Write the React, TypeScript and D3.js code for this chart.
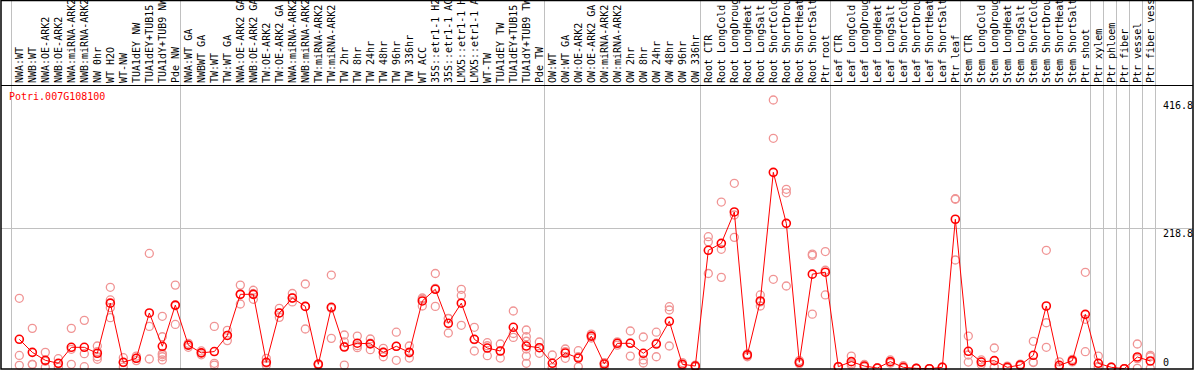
import * as d3 from 'd3';

const geneId = 'Potri.007G108100';

const labels = [
  'NWA:WT', 'NWB:WT', 'NWA:OE-ARK2', 'NWB:OE-ARK2', 'NWA:miRNA-ARK2', 'NWB:miRNA-ARK2', 'NW 0hr', 'WT H2O', 'WT-NW',
  'TUA1dEY NW', 'TUA1dEY+TUB15 NW', 'TUA1dY+TUB9 NW', 'Pde NW',
  'NWA:WT GA', 'NWBWT GA', 'TW:WT', 'TW:WT GA', 'NWA:OE-ARK2 GA', 'NWB:OE-ARK2 GA', 'TW:OE-ARK2', 'TW:OE-ARK2 GA',
  'NWA:miRNA-ARK2', 'NWB:miRNA-ARK2', 'TW:miRNA-ARK2', 'TW:miRNA-ARK2', 'TW 2hr', 'TW 8hr', 'TW 24hr', 'TW 48hr',
  'TW 96hr', 'TW 336hr', 'WT ACC', '35S::etr1-1 H2O', '35S::etr1-1 ACC', 'LMX5::etr1-1 H2O', 'LMX5::etr1-1 ACC',
  'WT-TW', 'TUA1dEY TW', 'TUA1dEY+TUB15 TW', 'TUA1dY+TUB9 TW', 'Pde TW',
  'OW:WT', 'OW:WT GA', 'OW:OE-ARK2', 'OW:OE-ARK2 GA', 'OW:miRNA-ARK2', 'OW:miRNA-ARK2', 'OW 2hr', 'OW 8hr',
  'OW 24hr', 'OW 48hr', 'OW 96hr', 'OW 336hr',
  'Root CTR', 'Root LongCold', 'Root LongDrought', 'Root LongHeat', 'Root LongSalt', 'Root ShortCold',
  'Root ShortDrought', 'Root ShortHeat', 'Root ShortSalt', 'Ptr root',
  'Leaf CTR', 'Leaf LongCold', 'Leaf LongDrought', 'Leaf LongHeat', 'Leaf LongSalt', 'Leaf ShortCold',
  'Leaf ShortDrought', 'Leaf ShortHeat', 'Leaf ShortSalt', 'Ptr leaf',
  'Stem CTR', 'Stem LongCold', 'Stem LongDrought', 'Stem LongHeat', 'Stem LongSalt', 'Stem ShortCold',
  'Stem ShortDrought', 'Stem ShortHeat', 'Stem ShortSalt', 'Ptr shoot',
  'Ptr xylem', 'Ptr phloem', 'Ptr fiber', 'Ptr vessel', 'Ptr fiber vessel',
];

// number of samples in each experiment block (separated by grey lines)
const groupSizes = [13, 28, 12, 10, 10, 10, 1, 1, 1, 1, 1];

const means = [
  46, 25.8, 13.5, 8.8, 33.6, 33.6, 24.3, 102, 10.4, 16.6, 86.8, 35.2, 99,
  37, 25, 27, 52, 115.7, 115.7, 10.4, 86.8, 110, 97, 7.3, 95.6, 34, 40, 39, 25.8, 35.2, 25.8,
  105.4, 123.5, 70.8, 102, 46, 32.5, 27.9, 64.6, 35.6, 33,
  8.8, 24.8, 17, 51, 7.7, 39.8, 39.8, 24.3, 38.7, 73.9, 7.3, 4.6,
  183.9, 194.7, 243.3, 21.7, 105.4, 304.7, 225.7, 10.4, 147, 150,
  3.6, 11.4, 4.6, 1.5, 11.4, 2.6, 1, 0.5, 2.6, 232,
  27.4, 10.8, 12.9, 2.6, 6.2, 21.2, 97.6, 5.7, 12.9, 84.7,
  8.8, 2.6, 0.5, 18.6, 12.4,
];

const reps = [
  [109.5, 21, 5.7], [63, 7.3, 7], [25.8, 2.6, 12], [16, 2.6, 8], [63, 7.3, 30.5], [75.4, 23.7, 3.6],
  [35.6, 19, 15, 27], [126.6, 95, 79.5, 107], [17.5, 3, 10], [20, 13, 16.8], [179, 66, 15.5],
  [81.6, 50, 24, 19, 14, 22], [130, 69, 98],
  [39.8, 33.6, 37], [25, 22, 28], [66, 8.8, 6], [60, 44, 52], [130, 100.7, 116], [122, 108, 117],
  [16.6, 6, 9], [86.8, 80, 94], [117, 104, 110], [131.7, 62, 97], [8, 6, 8], [145.6, 47.5, 94],
  [52.7, 42, 6, 35], [51, 33, 36], [46.5, 30, 40], [32, 19, 26], [57, 13.5, 35], [35.6, 17, 25],
  [110, 97.6, 108], [148, 125, 97], [78.5, 55.8, 78], [123.5, 114, 67.7], [64.6, 27.9, 45.5],
  [40.8, 20.6, 36], [38.7, 17, 28], [89.9, 49, 55], [60.4, 50, 43, 20, 31, 8.8], [41.8, 24.3, 33],
  [21.7, 2.6, 2], [31, 16.6, 27], [28.4, 3.5, 19], [54, 48, 51], [10, 4, 9], [42, 37, 40],
  [58.9, 20, 40.5], [49.6, 14, 9.3], [57, 19, 40], [96.5, 91.4, 35.6], [10, 5, 7], [6, 3, 4.8],
  [205, 197, 148], [258.7, 185.5, 142], [287.7, 238.6, 204], [23, 19, 23], [114.7, 97.6, 104],
  [416.8, 357.4, 139], [278.4, 273, 128.6], [13, 8, 10], [178, 176, 85], [182, 114.7, 153],
  [4, 3, 3.8], [20, 6, 8], [7, 3, 4], [2, 1, 1.5], [14, 9, 11], [5, 1, 2], [1, 1, 1], [0.5, 0.5, 0.5],
  [3, 2, 2.8], [263.9, 168.9, 263],
  [51, 21.7, 10.8], [14, 7, 11], [32.5, 3, 3], [4.5, 1.5, 2], [7.5, 5, 6], [42.9, 10.8, 10],
  [183.9, 71.7, 33.6], [11, 3, 3], [15, 11, 12.7], [149.8, 77, 26.8],
  [20, 2.6, 4], [3, 2, 2.8], [0.5, 0.5, 0.5], [38.7, 1, 16], [21.2, 19, 1],
];

const yTicks = [0, 218.8, 416.8];

const W = 1194;
const H = 370;
const font = '"DejaVu Sans Mono", monospace';

export default function App() {
  const idx = labels.map((_, i) => i);
  const x = d3.scaleBand<number>().domain(idx).range([11, 11 + labels.length * 13]);
  const bw = x.bandwidth();
  const cx = (i: number) => (x(i) as number) + bw * 0.64;
  const y = d3.scaleLinear().domain([0, 416.8]).range([369, 100]);

  const bounds = [0];
  groupSizes.forEach((n) => bounds.push(bounds[bounds.length - 1] + n));
  const boundX = (k: number) => (k < labels.length ? (x(k) as number) : x.range()[1]);

  const line = d3.line<number>().x((_, i) => cx(i)).y((d) => y(d));

  return (
    <svg width={W} height={H} style={{ position: 'absolute', left: 0, top: 0, background: '#fff' }}>
      <defs>
        <clipPath id="hdr">
          <rect x={0} y={1} width={W} height={84} />
        </clipPath>
      </defs>

      {yTicks.filter((t) => t > 0 && t < 416.8).map((t) => (
        <line key={t} x1={1} x2={1193} y1={Math.round(y(t)) + 0.5} y2={Math.round(y(t)) + 0.5} stroke="#c0c0c0" />
      ))}

      {bounds.map((k) => (
        <line key={k} x1={Math.round(boundX(k)) + 0.5} x2={Math.round(boundX(k)) + 0.5} y1={0} y2={369} stroke="#c0c0c0" />
      ))}

      <g clipPath="url(#hdr)">
        {labels.map((l, i) => (
          <text
            key={i}
            transform={`translate(${(x(i) as number) + 11.5},83) rotate(-90)`}
            fontFamily={font}
            fontSize={10}
            fill="#000"
          >
            {l}
          </text>
        ))}
      </g>

      <text x={9} y={100} fontFamily={font} fontSize={10} fill="#ff0000">{geneId}</text>

      {reps.map((r, i) =>
        r.map((v, j) => (
          <circle key={`${i}-${j}`} cx={cx(i)} cy={y(v)} r={4} fill="none" stroke="#f09494" strokeWidth={1.3} />
        ))
      )}

      <path d={line(means) || ''} fill="none" stroke="#ff0000" strokeWidth={1} />
      {means.map((v, i) => (
        <circle key={i} cx={cx(i)} cy={y(v)} r={4} fill="none" stroke="#ff0000" strokeWidth={1.6} />
      ))}

      {yTicks.map((t) => (
        <text key={t} x={1163} y={Math.min(y(t) + 9, 366)} fontFamily={font} fontSize={10} fill="#000">
          {t === 0 ? '0' : t.toFixed(1)}
        </text>
      ))}

      <line x1={1} x2={1193} y1={85.5} y2={85.5} stroke="#000" />
      <rect x={1} y={0.5} width={1192} height={368.5} fill="none" stroke="#000" strokeWidth={1.5} />
    </svg>
  );
}
